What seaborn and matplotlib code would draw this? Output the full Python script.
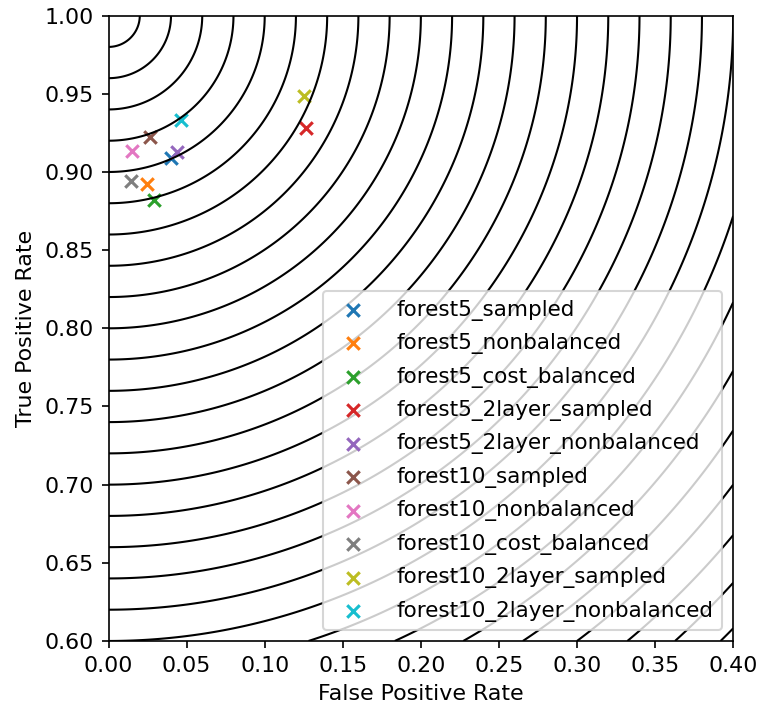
import numpy as np
import pandas as pd
import matplotlib
matplotlib.use("Agg")
import matplotlib.pyplot as plt
import seaborn as sns

# Operating points (false positive rate, true positive rate) of each model
models = [
    "forest5_sampled",
    "forest5_nonbalanced",
    "forest5_cost_balanced",
    "forest5_2layer_sampled",
    "forest5_2layer_nonbalanced",
    "forest10_sampled",
    "forest10_nonbalanced",
    "forest10_cost_balanced",
    "forest10_2layer_sampled",
    "forest10_2layer_nonbalanced",
]
fpr = [0.0399, 0.0244, 0.0293, 0.1262, 0.0440, 0.0265, 0.0148, 0.0144, 0.1249, 0.0461]
tpr = [0.9091, 0.8920, 0.8818, 0.9284, 0.9129, 0.9223, 0.9137, 0.8944, 0.9487, 0.9330]

# Iso-distance contours around the perfect classifier (0, 1)
ideal_point = (0.0, 1.0)
contour_step = 0.02
contour_count = 28

x_ticks = [0.00, 0.05, 0.10, 0.15, 0.20, 0.25, 0.30, 0.35, 0.40]
y_ticks = [0.60, 0.65, 0.70, 0.75, 0.80, 0.85, 0.90, 0.95, 1.00]

df = pd.DataFrame({"model": models, "fpr": fpr, "tpr": tpr})

plt.rcParams["font.size"] = 10.6

fig = plt.figure(figsize=(759 / 150, 711 / 150), dpi=150)
ax = fig.add_axes([0.143, 0.0985, 0.823, 0.8795])

# distance contours
gx, gy = np.meshgrid(np.linspace(0, 0.4, 900), np.linspace(0.6, 1.0, 900))
dist = np.hypot(gx - ideal_point[0], gy - ideal_point[1])
levels = contour_step * np.arange(1, contour_count + 1)
ax.contour(gx, gy, dist, levels=levels, colors="k", linewidths=1.0)

palette = sns.color_palette("tab10", len(models))
for name, color in zip(models, palette):
    sub = df[df["model"] == name]
    sns.scatterplot(data=sub, x="fpr", y="tpr", marker="x", s=36,
                    color=color, linewidth=1.5, label=name, ax=ax, legend=False)

handles, labels = ax.get_legend_handles_labels()
ax.legend(handles, labels, loc="lower right", fontsize=10.3,
          labelspacing=0.58, handletextpad=1.05)

ax.set_xlim(0, 0.4)
ax.set_ylim(0.6, 1.0)
ax.set_xticks(x_ticks)
ax.set_yticks(y_ticks)
ax.set_xticklabels([f"{v:.2f}" for v in x_ticks])
ax.set_yticklabels([f"{v:.2f}" for v in y_ticks])
ax.set_xlabel("False Positive Rate")
ax.set_ylabel("True Positive Rate")

fig.savefig("out.png", dpi=150)
